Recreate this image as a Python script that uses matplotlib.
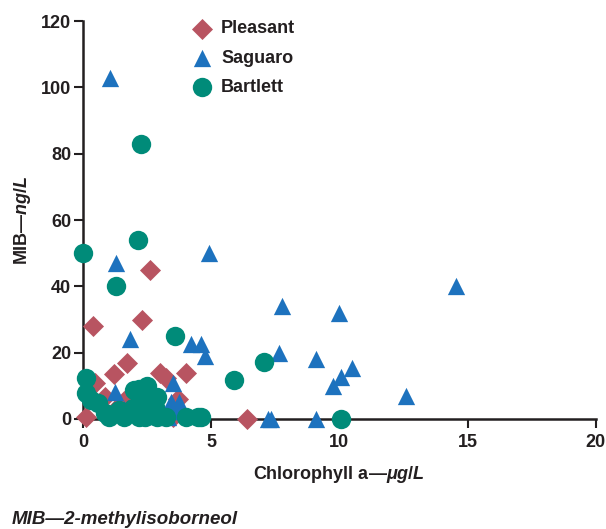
import matplotlib
matplotlib.use("Agg")
import matplotlib.pyplot as plt

plt.rcParams['font.family'] = ['Liberation Sans', 'DejaVu Sans']
plt.rcParams['font.weight'] = 'bold'
plt.rcParams['mathtext.fontset'] = 'custom'
plt.rcParams['mathtext.it'] = 'Liberation Sans:bold:italic'
plt.rcParams['mathtext.rm'] = 'Liberation Sans:bold'

INK = '#231f20'

# Pleasant (diamonds)
pleasant_x = [0.4, 2.6, 2.3, 1.7, 1.2, 0.45, 3.0, 3.25, 4.0, 0.1, 6.4, 0.85, 1.6, 3.7, 2.9, 2.2, 3.5, 1.3]
pleasant_y = [28, 45, 30, 17, 13.5, 11, 14, 12.5, 14, 0.5, 0, 6.5, 5.5, 6, 2, 1, 0.5, 3]

# Saguaro (triangles)
saguaro_x = [1.05, 1.3, 4.9, 1.85, 4.2, 4.6, 4.75, 7.75, 7.65, 9.1, 10.0, 10.5, 10.05, 9.75,
             12.6, 14.55, 7.2, 7.35, 9.1, 3.5, 1.25, 3.45, 3.75, 3.6, 3.8, 1.6, 2.6, 3.3]
saguaro_y = [103, 47, 50, 24, 22.5, 22.5, 19, 34, 20, 18, 32, 15.5, 12.7, 10,
             7, 40, 0, 0, 0, 11, 8, 5, 5, 2.5, 2.5, 3, 1, 0.5]

# Bartlett (circles)
bartlett_x = [2.25, 2.15, 0.0, 1.3, 3.6, 7.05, 5.9, 10.05, 0.1, 0.1, 0.3, 0.6, 0.85, 1.0,
              1.4, 1.6, 1.65, 2.0, 2.3, 2.5, 2.2, 2.9, 2.8, 2.4, 2.9, 3.25, 4.0, 4.5, 4.6,
              1.95, 2.5, 2.2]
bartlett_y = [83, 54, 50, 40, 25, 17.2, 11.7, 0, 12.3, 7.8, 5.7, 4.8, 1.8, 0.5,
              2.7, 0.5, 1.8, 8.7, 6.6, 10, 9, 6.6, 3.6, 0.5, 0.5, 0.5, 0.5, 0.5, 0.5,
              3.3, 2, 0.5]

x_ticks = [0, 5, 10, 15, 20]
y_ticks = [0, 20, 40, 60, 80, 100, 120]

fig = plt.figure(figsize=(6.06, 5.29), dpi=100)
ax = fig.add_axes([0.137, 0.208, 0.846, 0.752])

ax.scatter(pleasant_x, pleasant_y, marker='D', s=115, color='#b85461', linewidths=0,
           clip_on=False, zorder=3, label='Pleasant')
ax.scatter(saguaro_x, saguaro_y, marker='^', s=155, color='#1d72be', linewidths=0,
           clip_on=False, zorder=4, label='Saguaro')
ax.scatter(bartlett_x, bartlett_y, marker='o', s=195, color='#008b79', linewidths=0,
           clip_on=False, zorder=5, label='Bartlett')

ax.set_xlim(0, 20)
ax.set_ylim(0, 120)
ax.set_xticks(x_ticks)
ax.set_yticks(y_ticks)

for side in ['top', 'right']:
    ax.spines[side].set_visible(False)
for side in ['left', 'bottom']:
    ax.spines[side].set_linewidth(1.8)
    ax.spines[side].set_color(INK)
ax.tick_params(axis='both', length=6.5, width=1.5, color=INK, labelsize=13,
               labelcolor=INK)
ax.tick_params(axis='y', pad=2)
ax.tick_params(axis='x', pad=4)
for lbl in ax.get_xticklabels() + ax.get_yticklabels():
    lbl.set_fontweight('bold')

ax.set_xlabel('Chlorophyll a\u2014$\\mathit{\u03bcg/L}$', fontsize=13, color=INK,
              fontweight='bold', labelpad=10)
ax.set_ylabel('MIB\u2014$\\mathit{ng/L}$', fontsize=13, color=INK,
              fontweight='bold', labelpad=6)

leg = ax.legend(loc='upper left', bbox_to_anchor=(0.183, 1.02), frameon=False,
                prop={'size': 13, 'weight': 'bold'}, handletextpad=0.05,
                labelspacing=0.68, borderaxespad=0)
for t in leg.get_texts():
    t.set_color(INK)

fig.text(0.02, 0.018, 'MIB\u20142-methylisoborneol', fontsize=13.5, fontstyle='italic',
         fontweight='bold', color=INK, va='center', ha='left')

fig.savefig('out.png', dpi=100)
